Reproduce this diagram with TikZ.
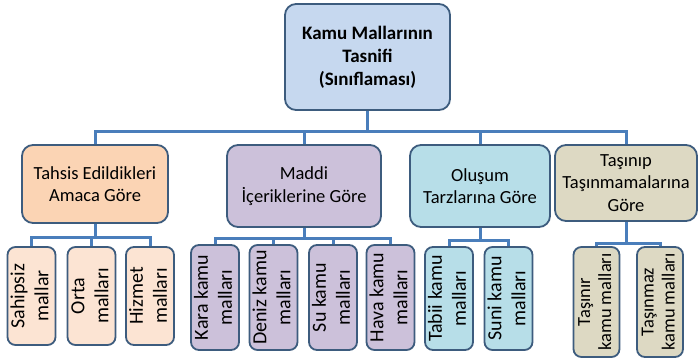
\documentclass[tikz,border=0pt]{standalone}
\usepackage{fontspec}
\setmainfont{Carlito}
\usetikzlibrary{backgrounds}
\definecolor{bordercol}{HTML}{3D5C7E}
\definecolor{conncol}{HTML}{4A7EBB}
\definecolor{rootfill}{HTML}{C6D8EF}
\definecolor{orfill}{HTML}{FBD4B4}
\definecolor{orleaf}{HTML}{FCE4D3}
\definecolor{lavfill}{HTML}{CCC1DA}
\definecolor{cyfill}{HTML}{B7DEE8}
\definecolor{begfill}{HTML}{DDD9C3}
\newcommand{\vt}[4]{\rotatebox{90}{\fontsize{#1}{#2}\selectfont\begin{tabular}{@{}c@{}}#3\\#4\end{tabular}}}
\begin{document}
\begin{tikzpicture}[x=1pt,y=-1pt,
  box/.style={draw=bordercol, line width=1.8pt, rounded corners=11pt, inner sep=0pt, align=center, text=black},
  lvlone/.style={box, font=\fontsize{18.5}{22.5}\selectfont},
  leaf/.style={box, rounded corners=8pt, minimum width=46pt},
  conn/.style={draw=conncol, line width=3pt, line join=miter}]
\useasboundingbox (0,0) rectangle (699,359);

\node[box, fill=rootfill, minimum width=165pt, minimum height=106pt, font=\fontsize{19}{23}\selectfont\bfseries] (root) at (367.5,57) {Kamu Mallarının\\Tasnifi\\(Sınıflaması)};

\node[lvlone, fill=orfill, minimum width=146pt, minimum height=78pt] (A) at (95,184) {Tahsis Edildikleri\\Amaca Göre};
\node[lvlone, fill=lavfill, minimum width=154pt, minimum height=82pt] (B) at (304,186) {Maddi\\İçeriklerine Göre};
\node[lvlone, fill=cyfill, minimum width=140pt, minimum height=82pt] (C) at (480,186) {Oluşum\\Tarzlarına Göre};
\node[lvlone, fill=begfill, minimum width=142pt, minimum height=76pt] (D) at (626,183) {Taşınıp\\Taşınmamalarına\\Göre};

\node[leaf, fill=orleaf, minimum height=98pt] (a1) at (31.5,296) {\vt{20}{24}{Sahipsiz}{mallar}};
\node[leaf, fill=orleaf, minimum height=98pt] (a2) at (91.5,296) {\vt{20}{24}{Orta}{malları}};
\node[leaf, fill=orleaf, minimum height=98pt] (a3) at (150,296) {\vt{20}{24}{Hizmet}{malları}};

\node[leaf, fill=lavfill, minimum height=105pt] (b1) at (215,297.5) {\vt{20}{24}{Kara kamu}{malları}};
\node[leaf, fill=lavfill, minimum height=105pt] (b2) at (273.5,297.5) {\vt{20}{24}{Deniz kamu}{malları}};
\node[leaf, fill=lavfill, minimum height=105pt] (b3) at (333,297.5) {\vt{20}{24}{Su kamu}{malları}};
\node[leaf, fill=lavfill, minimum height=105pt] (b4) at (390.5,297.5) {\vt{20}{24}{Hava kamu}{malları}};

\node[leaf, fill=cyfill, minimum height=103pt] (c1) at (449,298.5) {\vt{20}{24}{Tabii kamu}{malları}};
\node[leaf, fill=cyfill, minimum height=103pt] (c2) at (508.5,298.5) {\vt{20}{24}{Suni kamu}{malları}};

\node[leaf, fill=begfill, minimum height=110pt] (d1) at (596.5,302) {\vt{18.5}{21}{Taşınır}{kamu malları}};
\node[leaf, fill=begfill, minimum height=110pt] (d2) at (660,302) {\vt{18.5}{21}{Taşınmaz}{kamu malları}};

\coordinate (bar) at (0,131);
\coordinate (abar) at (0,237);
\coordinate (bbar) at (0,238);
\coordinate (cbar) at (0,240);
\coordinate (dbar) at (0,243);

\begin{pgfonlayer}{background}
\draw[conn] (root.south) -- (root.south|-bar);
\draw[conn] (A.north) -- (A.north|-bar) -- (D.north|-bar) -- (D.north);
\draw[conn] (B.north|-bar) -- (B.north);
\draw[conn] (C.north|-bar) -- (C.north);

\draw[conn] (A.south) -- (A.south|-abar);
\draw[conn] (a1.north) -- (a1.north|-abar) -- (a3.north|-abar) -- (a3.north);
\draw[conn] (a2.north|-abar) -- (a2.north);

\draw[conn] (B.south) -- (B.south|-bbar);
\draw[conn] (b1.north) -- (b1.north|-bbar) -- (b4.north|-bbar) -- (b4.north);
\draw[conn] (b2.north|-bbar) -- (b2.north);
\draw[conn] (b3.north|-bbar) -- (b3.north);

\draw[conn] (C.south) -- (C.south|-cbar);
\draw[conn] (c1.north) -- (c1.north|-cbar) -- (c2.north|-cbar) -- (c2.north);

\draw[conn] (D.south) -- (D.south|-dbar);
\draw[conn] (d1.north) -- (d1.north|-dbar) -- (d2.north|-dbar) -- (d2.north);
\end{pgfonlayer}
\end{tikzpicture}
\end{document}
